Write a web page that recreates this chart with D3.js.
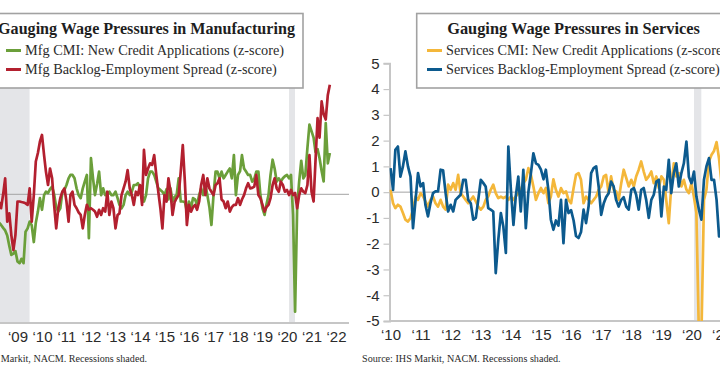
<!DOCTYPE html>
<html><head><meta charset="utf-8">
<script src="https://cdn.jsdelivr.net/npm/d3@7"></script>
<style>
body{margin:0;background:#fff;}
svg{display:block;font-family:"Palatino Linotype","Book Antiqua",Palatino,"Liberation Serif",serif;}
</style>
</head><body>
<svg id="chart" width="720" height="380"></svg>
<script>
// ---------------- DATA ----------------
const mfgStart = new Date(2008, 3, 1);   // monthly, from Apr 2008
const mfgCMI = [-1.1,-1.19,-1.3,-1.4,-1.6,-2.0,-2.35,-2.3,-2.2,-2.6,-2.67,-2.5,-2.67,-1.45,-1.32,-1.06,-1.2,-1.85,-1.1,-0.67,
 -0.15,-0.6,-0.03,0.1,0.05,0.2,0.3,0.0,-0.5,-0.67,-0.54,0.1,0.17,0.36,0.62,0.75,0.75,0.62,0.23,-0.03,
 -0.15,0.23,0.49,0.75,-1.7,1.4,0.62,-0.03,0.4,0.88,-0.03,0.23,-0.03,-0.03,0.1,-0.03,-0.03,0.1,-0.15,-0.41,
 -0.54,-0.41,-0.03,0.1,-0.03,0.1,0.36,0.36,0.43,0.23,-0.03,-0.28,-0.03,0.62,0.88,0.88,0.75,0.49,0.23,0.17,
 0.1,-0.03,0.2,-0.2,0.23,-0.28,-0.1,-0.03,0.62,-0.28,-0.28,-0.3,-0.67,-0.28,-0.54,-0.15,-0.2,-0.41,-0.03,0.23,
 -0.03,0.36,-0.03,-0.5,-1.19,-0.03,0.88,0.88,0.62,0.88,0.62,0.75,0.88,1.0,0.62,1.52,-0.03,0.75,0.9,1.52,
 1.0,0.88,0.75,0.75,0.49,0.6,0.88,0.88,-0.03,-0.54,-0.8,-0.4,-0.03,0.75,1.34,1.0,0.49,0.62,0.49,0.62,
 0.7,0.75,0.62,0.75,-0.8,-4.55,-0.5,0.5,1.3,0.62,0.75,1.8,2.7,2.45,2.2,1.65,1.75,1.4,0.9,0.5,
 2.76,1.2,1.6];
const mfgBacklog = [-0.3,-0.54,0.0,0.62,-1.06,-0.74,-1.58,-2.16,-1.58,-0.28,-0.28,-0.3,-0.32,-0.35,-0.41,0.23,-1.06,-0.03,1.27,1.6,
 2.04,2.3,1.52,0.88,0.36,1.0,0.62,-0.41,-1.32,-0.54,-0.15,0.1,0.23,-0.28,-1.06,-0.03,0.1,-0.41,-0.54,-0.7,
 -0.8,-1.32,-0.8,-0.41,-0.6,-0.54,-0.6,-0.67,-0.87,-0.6,-0.8,-0.54,-0.67,0.1,-0.8,-0.28,-0.54,-1.32,-0.8,-0.74,
 -0.03,0.23,0.5,0.94,0.23,-0.03,-0.41,0.1,-0.03,0.36,-0.41,1.72,0.75,1.0,1.2,1.14,1.52,0.75,0.1,-0.54,
 -1.32,-0.03,-0.28,0.62,0.1,-0.8,-0.3,-0.15,-0.03,0.9,1.91,0.49,-1.19,-0.41,-0.67,-0.5,-0.41,-0.6,-0.28,0.36,
 0.75,-0.03,0.62,0.23,0.1,-0.03,0.36,0.43,0.62,-0.2,-0.28,-0.54,-0.28,-0.67,-0.5,-0.41,-0.41,-0.15,-0.41,-0.2,
 -0.03,0.23,0.43,0.23,0.25,0.3,0.75,-0.03,-0.15,-0.41,-0.67,-0.5,-0.41,-0.15,0.36,0.62,0.23,0.1,0.49,0.36,
 0.1,0.17,-0.03,0.17,-0.03,0.05,-0.54,-0.03,0.23,0.1,0.05,0.36,1.52,0.1,-0.28,1.27,2.95,2.2,3.6,3.1,
 2.9,3.85,4.25];

const svcStart = new Date(2010, 0, 1);   // monthly, from Jan 2010
const svcCMI = [0.09,-0.43,-0.62,-0.49,-0.56,-0.81,-1.07,-1.14,-1.0,-0.68,-0.17,-0.3,-0.04,-0.17,-0.36,-0.56,-0.3,-0.17,-0.43,-0.56,
 -0.3,-0.56,-0.68,0.29,0.09,0.35,0.09,0.67,-0.04,-0.17,-0.3,-0.43,-0.3,-0.17,-0.36,-0.56,-0.68,-0.56,-0.3,-0.17,
 0.09,0.29,-0.04,-0.23,-0.17,-0.23,-0.17,-0.3,-0.17,-0.3,-0.17,-0.04,0.09,0.35,0.48,0.93,0.67,0.22,-0.3,-0.04,
 0.16,-0.04,0.16,-0.43,-0.17,0.5,0.09,-0.17,0.16,-0.04,0.03,-0.3,-0.43,0.16,0.67,0.74,0.48,-0.43,-0.17,-0.3,
 -0.43,-0.3,-0.17,0.09,0.22,0.61,0.67,-0.04,0.61,0.09,0.03,-0.3,0.35,0.87,0.55,0.22,0.48,0.22,0.61,0.87,
 1.19,0.8,0.48,0.61,0.8,0.35,0.61,0.16,0.61,0.48,-0.3,-1.2,0.22,1.12,0.61,0.74,0.22,0.48,0.1,-0.04,
 0.35,-0.2,-0.8,-5.6,-5.6,-0.3,0.1,1.2,1.45,1.6,1.94,1.3,0.3];
const svcBacklog = [0.93,0.09,1.64,1.77,0.6,1.0,1.58,1.0,0.6,-1.4,-0.3,0.74,0.22,0.35,-0.5,-0.94,-0.43,-0.04,0.03,0.03,
 0.87,0.85,-0.04,-0.75,-0.49,-0.75,-0.3,-0.2,-0.1,0.48,0.48,-0.3,-0.43,-1.07,-1.0,-0.3,0.48,0.35,0.22,-0.62,
 -0.68,-0.75,-3.14,-1.85,-0.81,-1.33,-2.36,1.77,0.09,-1.27,-0.17,0.6,-0.75,0.87,-1.4,0.0,0.74,1.51,1.12,1.06,
 0.87,0.5,0.87,0.09,-1.07,-1.46,-1.1,-1.3,-0.3,-1.98,-0.3,-0.81,-0.7,-1.1,-1.7,-1.78,-1.55,-0.68,-1.2,-0.55,
 0.74,0.93,1.0,0.22,-0.88,-0.43,-0.2,-0.04,0.41,0.22,-0.3,-0.56,-0.3,-0.2,-0.56,-0.68,0.09,0.16,-0.1,-0.68,
 0.09,0.16,-0.3,-1.0,-0.3,-0.1,0.41,0.48,-0.94,0.22,0.09,1.25,-0.04,0.74,1.12,0.22,0.74,1.12,1.96,0.6,
 0.35,0.8,-0.17,-0.68,-1.07,0.48,1.0,1.32,0.48,0.48,-0.3,-1.72,-1.5];

const mfgYears = d3.range(2009, 2023);
const svcYears = d3.range(2010, 2022);
const yTickValues = d3.range(-5, 6);
const recessions = [[new Date(2007, 11, 1), new Date(2009, 5, 30)], [new Date(2020, 1, 1), new Date(2020, 3, 30)]];

const mfgTitle = "Gauging Wage Pressures in Manufacturing";
const mfgNames = ["Mfg CMI: New Credit Applications (z-score)", "Mfg Backlog-Employment Spread (z-score)"];
const svcTitle = "Gauging Wage Pressures in Services";
const svcNames = ["Services CMI: New Credit Applications (z-score)", "Services Backlog-Employment Spread (z-score)"];
const sourceText = "Source: IHS Markit, NACM. Recessions shaded.";

// ---------------- STYLE ----------------
const C = {green:"#6b9f3a", red:"#b3202f", yellow:"#f4b73a", blue:"#0c5a8e",
           shade:"#e4e5e8", axis:"#c6c6c6", zero:"#a3a3a3", text:"#2b2b2b", box:"#a2a2a2"};

const svg = d3.select("#chart");
const defs = svg.append("defs");

function panel(o) {
  const g = svg.append("g");
  const x = d3.scaleTime().domain(o.xDomain).range(o.xRange);
  const y = d3.scaleLinear().domain([-5, 5]).range([o.yBottom, o.yTop]);
  const clipId = "clip" + o.id;
  defs.append("clipPath").attr("id", clipId).append("rect")
    .attr("x", o.plotLeft).attr("y", o.yTop).attr("width", o.plotRight - o.plotLeft).attr("height", o.yBottom - o.yTop);

  // recession shading
  g.selectAll("rect.rec").data(recessions).join("rect")
    .attr("clip-path", `url(#${clipId})`)
    .attr("x", d => x(d[0])).attr("width", d => x(d[1]) - x(d[0]))
    .attr("y", o.yTop).attr("height", o.yBottom - o.yTop).attr("fill", C.shade);

  // zero line
  g.append("line").attr("x1", o.plotLeft).attr("x2", o.plotRight)
    .attr("y1", y(0)).attr("y2", y(0)).attr("stroke", C.zero).attr("stroke-width", 1);

  // x axis
  const xAxis = d3.axisBottom(x).tickValues(o.years.map(yr => new Date(yr, 0, 1)))
    .tickSize(0).tickPadding(0).tickFormat(d => "\u2018" + String(d.getFullYear()).slice(2));
  const ax = g.append("g").attr("transform", `translate(0,${o.axisY})`).call(xAxis);
  ax.select(".domain").remove();
  ax.selectAll("text").attr("y", 19).attr("dy", 0).attr("font-size", 15).attr("fill", C.text)
    .attr("font-family", "inherit");
  g.append("line").attr("x1", o.plotLeft).attr("x2", o.plotRight).attr("y1", o.axisY).attr("y2", o.axisY)
    .attr("stroke", C.axis).attr("stroke-width", 2);

  // y axis
  if (o.showY) {
    const yAxis = d3.axisLeft(y).tickValues(yTickValues).tickSize(6).tickPadding(4).tickFormat(d => d < 0 ? "-" + Math.abs(d) : d);
    const ay = g.append("g").attr("transform", `translate(${o.plotLeft},0)`).call(yAxis);
    ay.select(".domain").attr("stroke", C.axis).attr("stroke-width", 2);
    ay.selectAll(".tick line").attr("stroke", C.axis).attr("stroke-width", 1.2);
    ay.selectAll("text").attr("font-size", 15).attr("fill", C.text).attr("font-family", "inherit");
  }

  // series
  o.series.forEach(s => {
    const line = d3.line().x((d, i) => x(d3.timeMonth.offset(o.start, i))).y(d => y(d));
    g.append("path").datum(s.values).attr("d", line).attr("fill", "none")
      .attr("stroke", s.color).attr("stroke-width", 2.7).attr("stroke-linejoin", "round")
      .attr("clip-path", `url(#${clipId})`);
  });
  return {g, x, y};
}

panel({id: "m", xDomain: [new Date(2009, 0, 1), new Date(2022, 0, 1)], xRange: [17.5, 336],
  yBottom: 323.3, yTop: 65.3, plotLeft: -20, plotRight: 349, axisY: 323, years: mfgYears, showY: false,
  start: mfgStart, series: [{values: mfgCMI, color: C.green}, {values: mfgBacklog, color: C.red}]});

panel({id: "s", xDomain: [new Date(2010, 0, 1), new Date(2021, 0, 1)], xRange: [390.5, 721.6],
  yBottom: 321, yTop: 63.3, plotLeft: 389.5, plotRight: 740, axisY: 321, years: svcYears, showY: true,
  start: svcStart, series: [{values: svcCMI, color: C.yellow}, {values: svcBacklog, color: C.blue}]});

// ---------------- LEGEND BOXES ----------------
function fit(sel, target) {
  const w = sel.node().getComputedTextLength();
  const fs = parseFloat(sel.attr("font-size"));
  sel.attr("font-size", (fs * target / w).toFixed(2));
  return fs * target / w;
}

function legend(o) {
  const g = svg.append("g");
  g.append("rect").attr("x", o.bx).attr("y", 13.5).attr("width", o.bw).attr("height", 74.5)
    .attr("fill", "#fff").attr("stroke", C.box).attr("stroke-width", 1.6);
  const t = g.append("text").attr("x", o.tx).attr("y", 34).attr("font-size", 16).attr("font-weight", "bold")
    .attr("fill", "#1e1e1e").attr("text-anchor", "middle").text(o.title);
  fit(t, o.titleW);
  const rows = [55, 74];
  const fsRef = g.append("text").attr("x", o.ex).attr("y", rows[1]).attr("font-size", 15).attr("fill", C.text).text(o.names[1]);
  const fs = fit(fsRef, o.entryW);
  g.append("text").attr("x", o.ex).attr("y", rows[0]).attr("font-size", fs.toFixed(2)).attr("fill", C.text).text(o.names[0]);
  o.colors.forEach((c, i) => {
    g.append("line").attr("x1", o.sx).attr("x2", o.sx + 15).attr("y1", rows[i] - 4.5).attr("y2", rows[i] - 4.5)
      .attr("stroke", c).attr("stroke-width", 3);
  });
}

legend({bx: -10, bw: 313, tx: 146.5, titleW: 297, title: mfgTitle, names: mfgNames, ex: 25, entryW: 252,
  sx: 6, colors: [C.green, C.red]});
legend({bx: 416.7, bw: 330, tx: 573.5, titleW: 253, title: svcTitle, names: svcNames, ex: 446, entryW: 274,
  sx: 427, colors: [C.yellow, C.blue]});

// ---------------- SOURCES ----------------
const s2 = svg.append("text").attr("x", 362).attr("y", 362).attr("font-size", 10.5).attr("fill", C.text).text(sourceText);
const sfs = fit(s2, 199);
svg.append("text").attr("x", 147).attr("y", 362).attr("font-size", sfs.toFixed(2)).attr("fill", C.text)
  .attr("text-anchor", "end").text(sourceText);
</script>
</body></html>
